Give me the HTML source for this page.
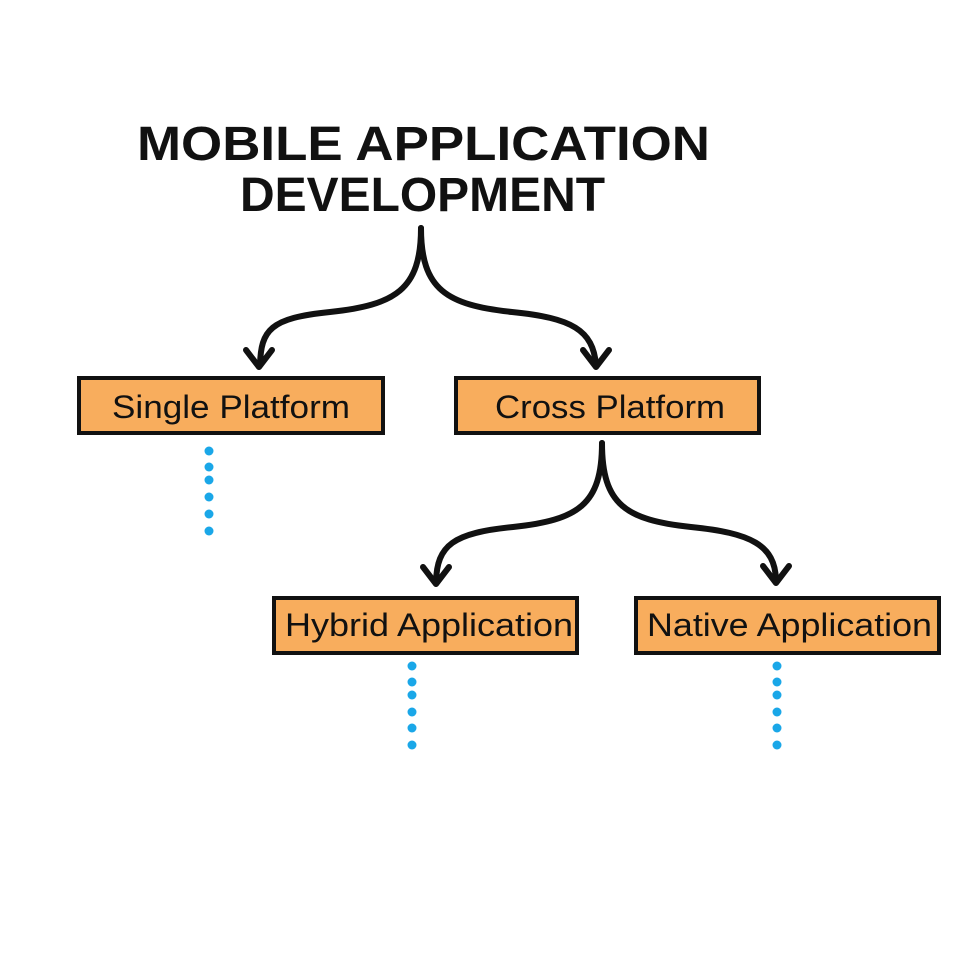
<!DOCTYPE html>
<html><head><meta charset="utf-8"><style>
html,body{margin:0;padding:0;background:#fff;width:960px;height:960px;overflow:hidden}
</style></head><body>
<svg width="960" height="960" viewBox="0 0 960 960" xmlns="http://www.w3.org/2000/svg">
<g font-family="Liberation Sans, sans-serif" font-weight="bold" fill="#111">
<text x="137" y="160" font-size="48" textLength="573" lengthAdjust="spacingAndGlyphs">MOBILE APPLICATION</text>
<text x="240" y="211" font-size="48" textLength="365" lengthAdjust="spacingAndGlyphs">DEVELOPMENT</text>
</g>
<g fill="none" stroke="#111" stroke-width="6" stroke-linecap="round" stroke-linejoin="round">
<path d="M421 228 C421 290 395 305 330 312 C270 318 261 330 260 365"/>
<path d="M246 350 L259 367 L272 350"/>
<path d="M421 228 C421 290 447 305 512 312 C572 318 593 330 596 365"/>
<path d="M583 350 L596 367 L609 350"/>
<path d="M602 443 C602 505 578 520 513 527 C453 533 437 545 436 582"/>
<path d="M423 567 L436 584 L449 567"/>
<path d="M602 443 C602 505 626 520 691 527 C751 533 775 545 776 580"/>
<path d="M763 566 L776 583 L789 566"/>
</g>
<g fill="#F8AD5D" stroke="#111" stroke-width="4">
<rect x="79" y="378" width="304" height="55"/>
<rect x="456" y="378" width="303" height="55"/>
<rect x="274" y="598" width="303" height="55"/>
<rect x="636" y="598" width="303" height="55"/>
</g>
<g font-family="Liberation Sans, sans-serif" font-size="32" fill="#111">
<text x="112" y="418" textLength="238" lengthAdjust="spacingAndGlyphs">Single Platform</text>
<text x="495" y="418" textLength="230" lengthAdjust="spacingAndGlyphs">Cross Platform</text>
<text x="285" y="636" textLength="288" lengthAdjust="spacingAndGlyphs">Hybrid Application</text>
<text x="647" y="636" textLength="285" lengthAdjust="spacingAndGlyphs">Native Application</text>
</g>
<g fill="#1AA7E8">
<circle cx="209" cy="451" r="4.5"/><circle cx="209" cy="467" r="4.5"/><circle cx="209" cy="480" r="4.5"/><circle cx="209" cy="497" r="4.5"/><circle cx="209" cy="514" r="4.5"/><circle cx="209" cy="531" r="4.5"/>
<circle cx="412" cy="666" r="4.5"/><circle cx="412" cy="682" r="4.5"/><circle cx="412" cy="695" r="4.5"/><circle cx="412" cy="712" r="4.5"/><circle cx="412" cy="728" r="4.5"/><circle cx="412" cy="745" r="4.5"/>
<circle cx="777" cy="666" r="4.5"/><circle cx="777" cy="682" r="4.5"/><circle cx="777" cy="695" r="4.5"/><circle cx="777" cy="712" r="4.5"/><circle cx="777" cy="728" r="4.5"/><circle cx="777" cy="745" r="4.5"/>
</g>
</svg>
</body></html>
